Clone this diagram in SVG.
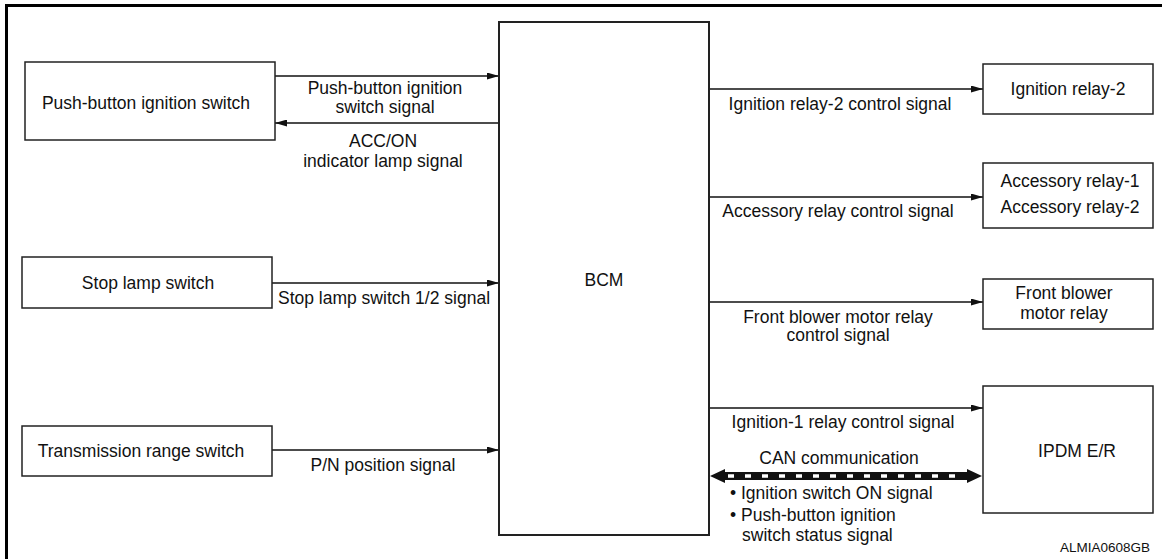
<svg xmlns="http://www.w3.org/2000/svg" width="1162" height="559" viewBox="0 0 1162 559">
<defs>
<style>
.box{fill:#fff;stroke:#222;stroke-width:1.5}
.bcm{fill:#fff;stroke:#222;stroke-width:2}
.t{font-family:"Liberation Sans",Arial,Helvetica,sans-serif;font-size:17.5px;fill:#111}
.c{text-anchor:middle}
.ln{fill:none;stroke:#111;stroke-width:1.5}
</style>
<marker id="arr" viewBox="0 0 12 7" refX="12" refY="3.5" markerWidth="12" markerHeight="7" markerUnits="userSpaceOnUse" orient="auto">
<path d="M0,0 L12,3.5 L0,7 z" fill="#111"/>
</marker>
</defs>
<rect width="1162" height="559" fill="#fff"/>
<path d="M6.5,559 V5.5 H1162" fill="none" stroke="#000" stroke-width="3"/>

<g id="connectors">
<path class="ln" d="M275,76 H499" marker-end="url(#arr)"/>
<path class="ln" d="M499,123 H275" marker-end="url(#arr)"/>
<path class="ln" d="M272,283 H499" marker-end="url(#arr)"/>
<path class="ln" d="M272,450 H499" marker-end="url(#arr)"/>
<path class="ln" d="M709,89 H983" marker-end="url(#arr)"/>
<path class="ln" d="M709,197 H983" marker-end="url(#arr)"/>
<path class="ln" d="M709,302 H983" marker-end="url(#arr)"/>
<path class="ln" d="M709,408 H983" marker-end="url(#arr)"/>
<g id="can">
<rect x="723" y="472" width="246" height="8" fill="#111"/>
<path d="M710,476 L725,469 L725,483 z" fill="#111"/>
<path d="M982,476 L967,469 L967,483 z" fill="#111"/>
<path d="M728,476 H965" stroke="#fff" stroke-width="3.5" stroke-dasharray="6 11"/>
</g>
<text class="t c" x="385" y="94">Push-button ignition</text>
<text class="t c" x="385" y="113">switch signal</text>
<text class="t c" x="383" y="147">ACC/ON</text>
<text class="t c" x="383" y="167">indicator lamp signal</text>
<text class="t c" x="384" y="304">Stop lamp switch 1/2 signal</text>
<text class="t c" x="383" y="471">P/N position signal</text>
<text class="t c" x="840" y="110">Ignition relay-2 control signal</text>
<text class="t c" x="838" y="217">Accessory relay control signal</text>
<text class="t c" x="838" y="323">Front blower motor relay</text>
<text class="t c" x="838" y="341">control signal</text>
<text class="t c" x="843" y="428">Ignition-1 relay control signal</text>
<text class="t c" x="839" y="464">CAN communication</text>
<text class="t" x="730" y="499">• Ignition switch ON signal</text>
<text class="t" x="730" y="521">• Push-button ignition</text>
<text class="t" x="742" y="541">switch status signal</text>
</g>

<g id="push-button-ignition-switch">
<rect class="box" x="25" y="62" width="250" height="78"/>
<text class="t c" x="146" y="109">Push-button ignition switch</text>
</g>
<g id="stop-lamp-switch">
<rect class="box" x="22" y="257" width="250" height="51"/>
<text class="t c" x="148" y="289">Stop lamp switch</text>
</g>
<g id="transmission-range-switch">
<rect class="box" x="22" y="426" width="250" height="50"/>
<text class="t c" x="141" y="457">Transmission range switch</text>
</g>
<g id="bcm">
<rect class="bcm" x="499" y="22" width="210" height="513"/>
<text class="t c" x="604" y="286">BCM</text>
</g>
<g id="ignition-relay-2">
<rect class="box" x="983" y="64" width="170" height="50"/>
<text class="t c" x="1068" y="95">Ignition relay-2</text>
</g>
<g id="accessory-relay">
<rect class="box" x="983" y="163" width="170" height="65"/>
<text class="t c" x="1070" y="187">Accessory relay-1</text>
<text class="t c" x="1070" y="213">Accessory relay-2</text>
</g>
<g id="front-blower-motor-relay">
<rect class="box" x="983" y="279" width="170" height="50"/>
<text class="t c" x="1064" y="299">Front blower</text>
<text class="t c" x="1064" y="319">motor relay</text>
</g>
<g id="ipdm-er">
<rect class="box" x="983" y="386" width="170" height="127"/>
<text class="t c" x="1077" y="457">IPDM E/R</text>
</g>
<text class="t" x="1150" y="552" style="font-size:13.5px;text-anchor:end">ALMIA0608GB</text>
</svg>
